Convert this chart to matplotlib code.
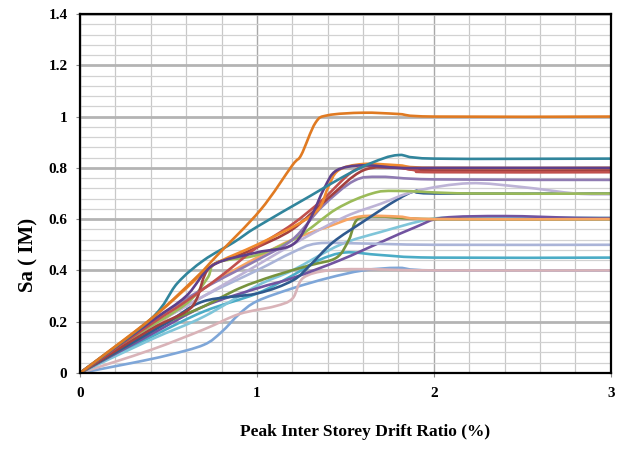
import numpy as np
import matplotlib
matplotlib.use("Agg")
import matplotlib.pyplot as plt
from matplotlib.path import Path
from matplotlib.patches import PathPatch

# Incremental dynamic analysis curves: peak inter-storey drift (%) vs Sa
rec_light_blue_x = [0, 0.3, 0.5, 0.7, 0.8, 0.9, 1.0, 1.2, 1.4, 1.6, 1.8, 2.0, 3.0]
rec_light_blue_y = [0, 0.04, 0.07, 0.11, 0.16, 0.23, 0.28, 0.33, 0.37, 0.40, 0.41, 0.40, 0.40]

rec_pink_x = [0, 0.4, 0.7, 0.9, 1.1, 1.2, 1.26, 1.4, 1.6, 2.0, 3.0]
rec_pink_y = [0, 0.09, 0.17, 0.23, 0.26, 0.29, 0.37, 0.40, 0.405, 0.40, 0.40]

rec_aqua_x = [0, 0.4, 0.7, 1.0, 1.2, 1.35, 1.5, 1.7, 2.0, 3.0]
rec_aqua_y = [0, 0.14, 0.24, 0.31, 0.38, 0.44, 0.47, 0.46, 0.45, 0.45]

rec_sky_x = [0, 0.4, 0.7, 1.0, 1.2, 1.47, 1.7, 1.98, 2.2, 3.0]
rec_sky_y = [0, 0.13, 0.22, 0.34, 0.40, 0.50, 0.55, 0.60, 0.605, 0.605]

rec_purple2_x = [0, 0.4, 0.7, 1.0, 1.2, 1.47, 1.7, 1.9, 2.05, 2.4, 2.8, 3.0]
rec_purple2_y = [0, 0.15, 0.26, 0.33, 0.37, 0.44, 0.51, 0.57, 0.605, 0.612, 0.605, 0.604]

rec_grey_x = [0, 0.4, 0.7, 1.0, 1.2, 1.34, 1.6, 2.0, 3.0]
rec_grey_y = [0, 0.18, 0.30, 0.40, 0.47, 0.505, 0.505, 0.50, 0.50]

rec_olive_x = [0, 0.3, 0.5, 0.7, 0.9, 1.1, 1.3, 1.45, 1.52, 1.57, 1.7, 2.0, 3.0]
rec_olive_y = [0, 0.12, 0.20, 0.26, 0.33, 0.38, 0.42, 0.45, 0.52, 0.60, 0.61, 0.60, 0.60]

rec_light_orange_x = [0, 0.4, 0.7, 1.0, 1.2, 1.4, 1.58, 1.8, 2.0, 3.0]
rec_light_orange_y = [0, 0.17, 0.33, 0.45, 0.52, 0.57, 0.61, 0.61, 0.60, 0.60]

rec_dark_blue_x = [0, 0.3, 0.5, 0.7, 1.0, 1.2, 1.3, 1.43, 1.6, 1.79, 1.9, 2.0, 3.0]
rec_dark_blue_y = [0, 0.12, 0.20, 0.28, 0.31, 0.36, 0.42, 0.51, 0.59, 0.675, 0.71, 0.70, 0.70]

rec_lavender_x = [0, 0.4, 0.7, 1.0, 1.25, 1.5, 1.7, 1.9, 2.2, 2.5, 2.8, 3.0]
rec_lavender_y = [0, 0.18, 0.30, 0.42, 0.52, 0.61, 0.66, 0.71, 0.74, 0.725, 0.70, 0.697]

rec_green_x = [0, 0.3, 0.6, 0.72, 0.77, 1.0, 1.23, 1.45, 1.65, 1.8, 2.2, 3.0]
rec_green_y = [0, 0.14, 0.27, 0.37, 0.43, 0.46, 0.53, 0.64, 0.70, 0.71, 0.70, 0.70]

rec_purple_x = [0, 0.4, 0.7, 1.0, 1.2, 1.37, 1.55, 1.7, 2.0, 3.0]
rec_purple_y = [0, 0.20, 0.33, 0.44, 0.52, 0.65, 0.75, 0.765, 0.755, 0.753]

rec_maroon_x = [0, 0.4, 0.6, 0.66, 0.73, 0.9, 1.0, 1.2, 1.4, 1.6, 1.8, 2.0, 3.0]
rec_maroon_y = [0, 0.17, 0.24, 0.29, 0.41, 0.46, 0.49, 0.56, 0.68, 0.79, 0.80, 0.79, 0.79]

rec_red_x = [0, 0.4, 0.6, 0.8, 1.0, 1.2, 1.37, 1.55, 1.7, 1.9, 2.0, 3.0]
rec_red_y = [0, 0.19, 0.28, 0.38, 0.49, 0.58, 0.675, 0.79, 0.81, 0.79, 0.783, 0.783]

rec_orange_x = [0, 0.4, 0.6, 0.75, 1.0, 1.23, 1.35, 1.4, 1.46, 1.6, 1.8, 2.0, 3.0]
rec_orange_y = [0, 0.21, 0.33, 0.42, 0.50, 0.58, 0.64, 0.72, 0.79, 0.815, 0.81, 0.80, 0.80]

rec_dark_purple_x = [0, 0.4, 0.6, 0.75, 1.0, 1.2, 1.3, 1.38, 1.45, 1.6, 1.8, 2.0, 3.0]
rec_dark_purple_y = [0, 0.20, 0.30, 0.42, 0.47, 0.50, 0.60, 0.72, 0.79, 0.81, 0.80, 0.80, 0.80]

rec_teal_x = [0, 0.4, 0.55, 0.7, 0.87, 1.0, 1.3, 1.5, 1.65, 1.8, 2.0, 3.0]
rec_teal_y = [0, 0.21, 0.35, 0.44, 0.51, 0.57, 0.69, 0.77, 0.82, 0.85, 0.836, 0.836]

rec_dark_orange_x = [0, 0.4, 0.66, 0.77, 1.02, 1.2, 1.25, 1.33, 1.4, 1.6, 1.8, 2.0, 3.0]
rec_dark_orange_y = [0, 0.21, 0.375, 0.455, 0.636, 0.81, 0.85, 0.975, 1.005, 1.015, 1.01, 1.0, 1.0]

series = [
    (rec_light_blue_x, rec_light_blue_y, "#7EA6D8"),
    (rec_pink_x, rec_pink_y, "#D9B3B8"),
    (rec_aqua_x, rec_aqua_y, "#4BACC6"),
    (rec_sky_x, rec_sky_y, "#7FC5D9"),
    (rec_purple2_x, rec_purple2_y, "#7153A0"),
    (rec_grey_x, rec_grey_y, "#AAB4D8"),
    (rec_olive_x, rec_olive_y, "#77933C"),
    (rec_light_orange_x, rec_light_orange_y, "#F7A463"),
    (rec_dark_blue_x, rec_dark_blue_y, "#2F5A8F"),
    (rec_lavender_x, rec_lavender_y, "#BDB3D6"),
    (rec_green_x, rec_green_y, "#9BBB59"),
    (rec_purple_x, rec_purple_y, "#8F7BB2"),
    (rec_maroon_x, rec_maroon_y, "#A3403E"),
    (rec_red_x, rec_red_y, "#C0504D"),
    (rec_orange_x, rec_orange_y, "#F08A2E"),
    (rec_dark_purple_x, rec_dark_purple_y, "#5F3F8A"),
    (rec_teal_x, rec_teal_y, "#31859C"),
    (rec_dark_orange_x, rec_dark_orange_y, "#E07A22"),
]

x_ticks = [0, 1, 2, 3]
y_ticks = [0, 0.2, 0.4, 0.6, 0.8, 1.0, 1.2, 1.4]
y_tick_labels = ["0", "0.2", "0.4", "0.6", "0.8", "1", "1.2", "1.4"]


def smooth_path(xs, ys, k=1.0):
    """Cubic Bezier path through the points (Catmull-Rom style smoothing)."""
    pts = np.column_stack([xs, ys]).astype(float)
    n = len(pts)
    verts = [pts[0]]
    codes = [Path.MOVETO]
    for i in range(n - 1):
        p0 = pts[i - 1] if i > 0 else pts[i]
        p1 = pts[i]
        p2 = pts[i + 1]
        p3 = pts[i + 2] if i + 2 < n else pts[i + 1]
        c1 = p1 + (p2 - p0) * k / 6.0
        c2 = p2 - (p3 - p1) * k / 6.0
        verts += [c1, c2, p2]
        codes += [Path.CURVE4] * 3
    return Path(verts, codes)


fig = plt.figure(figsize=(6.24, 4.5), dpi=100)
ax = fig.add_axes([0.1282, 0.1711, 0.8507, 0.7978])

ax.set_xlim(0, 3)
ax.set_ylim(0, 1.4)

# grid: vertical every 0.2, horizontal every 0.04 with heavier lines every 0.2
ax.set_xticks(x_ticks)
ax.set_xticks(np.arange(0, 3.01, 0.2), minor=True)
ax.set_yticks(y_ticks)
ax.set_yticks(np.arange(0, 1.401, 0.04), minor=True)
ax.grid(which="minor", axis="x", color="#C8C8C8", linewidth=0.9)
ax.grid(which="major", axis="x", color="#A8A8A8", linewidth=1.0)
ax.grid(which="minor", axis="y", color="#D2D2D2", linewidth=0.9)
ax.grid(which="major", axis="y", color="#B4B4B4", linewidth=2.0)
ax.set_axisbelow(True)
ax.tick_params(which="minor", length=0)

for xs, ys, c in series:
    ax.add_patch(PathPatch(smooth_path(xs, ys), facecolor="none", edgecolor=c,
                           linewidth=1.9, capstyle="round", joinstyle="round"))

for s in ax.spines.values():
    s.set_color("black")
    s.set_linewidth(1.6)

serif = ["Liberation Serif", "DejaVu Serif"]
ax.set_yticklabels(y_tick_labels, fontfamily=serif, fontweight="bold", fontsize=11)
ax.set_xticklabels([str(v) for v in x_ticks], fontfamily=serif, fontweight="bold", fontsize=11)
ax.tick_params(which="major", axis="y", length=3, width=0.8, pad=6, color="#888888")
ax.tick_params(which="major", axis="x", length=3, width=0.8, pad=7, color="#888888")

ax.set_xlabel("Peak Inter Storey Drift Ratio (%)", fontfamily=serif,
              fontweight="bold", fontsize=12.5)
ax.xaxis.set_label_coords(0.537, -0.143)
ax.set_ylabel("Sa ( IM)", fontfamily=serif, fontweight="bold", fontsize=15)
ax.yaxis.set_label_coords(-0.078, 0.33)

fig.savefig("out.png", dpi=100)
